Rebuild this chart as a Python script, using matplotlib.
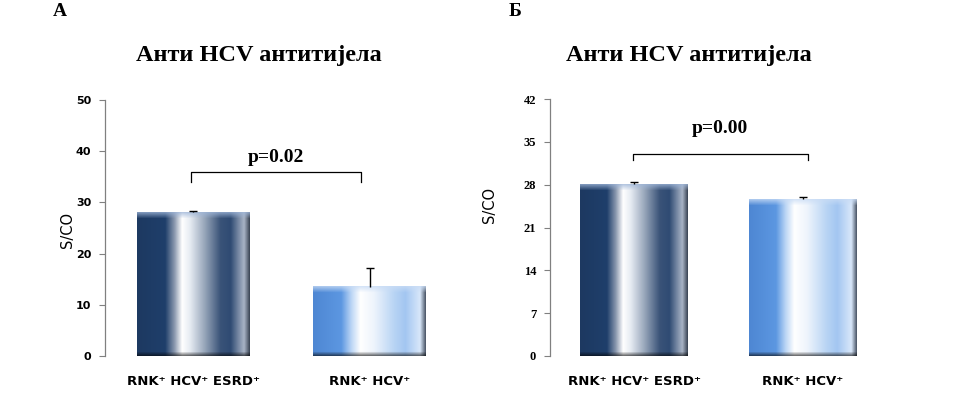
import numpy as np
import matplotlib
matplotlib.use("Agg")
import matplotlib.pyplot as plt
from matplotlib.colors import to_rgb

# ---- data ----
categories = ["RNK\u207a HCV\u207a ESRD\u207a", "RNK\u207a HCV\u207a"]
values_a = [28.1, 13.5]
errors_a = [0.3, 3.7]
values_b = [28.1, 25.6]
errors_b = [0.3, 0.4]
yticks_a = [0, 10, 20, 30, 40, 50]
yticks_b = [0, 7, 14, 21, 28, 35, 42]
title = "Анти HCV антитијела"
panel_letters = ["А", "Б"]
pvals = ["p=0.02", "p=0.00"]
ylabel = "S/CO"

dark_stops = [(0.0, "#1d3961"), (0.25, "#1f3f6b"), (0.33, "#8896ad"), (0.40, "#ffffff"),
              (0.47, "#e6ebf2"), (0.60, "#97a6ba"), (0.74, "#3a5378"), (0.83, "#2f4b73"),
              (0.95, "#a9b4c6"), (1.0, "#3a4454")]
light_stops = [(0.0, "#4e87d3"), (0.25, "#5c97e1"), (0.34, "#bcd6f5"), (0.42, "#ffffff"),
               (0.54, "#eef4fc"), (0.72, "#b8d4f4"), (0.82, "#a3c6f1"), (0.95, "#d8e7fa"),
               (1.0, "#4a5566")]
stops_list = [dark_stops, light_stops]

fig = plt.figure(figsize=(9.6, 3.94), dpi=100)
W, H = 960, 394


def gradient_image(stops, nrows, top_rows, bot_rows, top_color):
    xs = np.linspace(0, 1, 256)
    pos = [s[0] for s in stops]
    cols = np.array([to_rgb(s[1]) for s in stops])
    row = np.stack([np.interp(xs, pos, cols[:, k]) for k in range(3)], axis=-1)
    img = np.repeat(row[None, :, :], nrows, axis=0)
    tc = np.array(to_rgb(top_color))
    for r in range(min(top_rows, nrows)):
        a = 0.75 * (1 - r / max(top_rows, 1))
        img[r] = img[r] * (1 - a) + tc * a
    for r in range(min(bot_rows, nrows)):
        a = 0.55 * (1 - r / max(bot_rows, 1))
        img[nrows - 1 - r] = img[nrows - 1 - r] * (1 - a)
    return img


def panel(rect, values, errors, yticks, ymax, tickfont, ticksize, bracket, pval, ptext_y):
    ax = fig.add_axes(rect)
    x = np.arange(len(categories))
    bars = ax.bar(x, values, width=0.64, color="none", edgecolor="none", zorder=2)
    ax.set_xlim(-0.5, 1.5)
    ax.set_ylim(0, ymax)
    fig.canvas.draw()
    for i, b in enumerate(bars):
        x0, y0 = b.get_x(), b.get_y()
        x1, y1 = x0 + b.get_width(), y0 + b.get_height()
        p0 = ax.transData.transform((x0, y0))
        p1 = ax.transData.transform((x1, y1))
        nrows = max(int(round(p1[1] - p0[1])), 2)
        img = gradient_image(stops_list[i], nrows, 6, 4,
                             "#c9dcf5" if i == 1 else "#9fb6d8")
        ax.imshow(img, extent=(x0, x1, y0, y1), aspect="auto", zorder=2,
                  interpolation="bilinear", clip_path=b, clip_on=True)
    eb = ax.errorbar(x, values, yerr=[[0] * len(errors), errors], fmt="none",
                     ecolor="black", elinewidth=1, capsize=3, capthick=1, zorder=3)
    caps = eb[1]
    if len(caps) >= 2:
        caps[0].set_visible(False)
    ax.set_xlim(-0.5, 1.5)
    ax.set_ylim(0, ymax)
    ax.set_yticks(yticks)
    ax.set_yticklabels([str(t) for t in yticks], fontsize=ticksize, fontweight="bold",
                       family=tickfont)
    ax.set_xticks(x)
    ax.set_xticklabels(categories, fontsize=9.5, fontweight="bold", family="DejaVu Sans")
    ax.tick_params(axis="x", length=0, pad=14)
    ax.tick_params(axis="y", length=4, width=0.8, color="#808080", direction="out", pad=6)
    for s in ["top", "right", "bottom"]:
        ax.spines[s].set_visible(False)
    ax.spines["left"].set_color("#808080")
    ax.spines["left"].set_linewidth(0.9)
    # bracket
    bl, br, btop, bleg = bracket
    ax.plot([bl, bl, br, br], [bleg, btop, btop, bleg], color="black", lw=0.9,
            clip_on=False, zorder=4)
    ax.text((bl + br) / 2, ptext_y, pval, ha="center", va="center", fontsize=14,
            fontweight="bold", family="Liberation Serif", clip_on=False)
    return ax


# Panel A
axA = panel([105 / W, 1 - 356 / H, 353 / W, 256 / H], values_a, errors_a, yticks_a, 50,
            "DejaVu Sans", 8, (-0.01, 0.95, 35.9, 33.9), pvals[0], 38.8)
# Panel B
axB = panel([550 / W, 1 - 356 / H, 337 / W, 257 / H], values_b, errors_b, yticks_b, 42,
            "Liberation Serif", 9, (-0.01, 1.03, 33.0, 32.0), pvals[1], 37.1)

fig.text(67 / W, 1 - 230 / H, ylabel, rotation=90, ha="center", va="center",
         fontsize=10.5, family="DejaVu Sans")
fig.text(490 / W, 1 - 205 / H, ylabel, rotation=90, ha="center", va="center",
         fontsize=10.5, family="DejaVu Sans")

fig.text(259 / W, 1 - 55 / H, title, ha="center", va="center", fontsize=17.5,
         fontweight="bold", family="Liberation Serif")
fig.text(689 / W, 1 - 55 / H, title, ha="center", va="center", fontsize=17.5,
         fontweight="bold", family="Liberation Serif")
fig.text(60 / W, 1 - 12 / H, panel_letters[0], ha="center", va="center", fontsize=14,
         fontweight="bold", family="Liberation Serif")
fig.text(515 / W, 1 - 12 / H, panel_letters[1], ha="center", va="center", fontsize=14,
         fontweight="bold", family="Liberation Serif")

fig.savefig("out.png", dpi=100, facecolor="white")
